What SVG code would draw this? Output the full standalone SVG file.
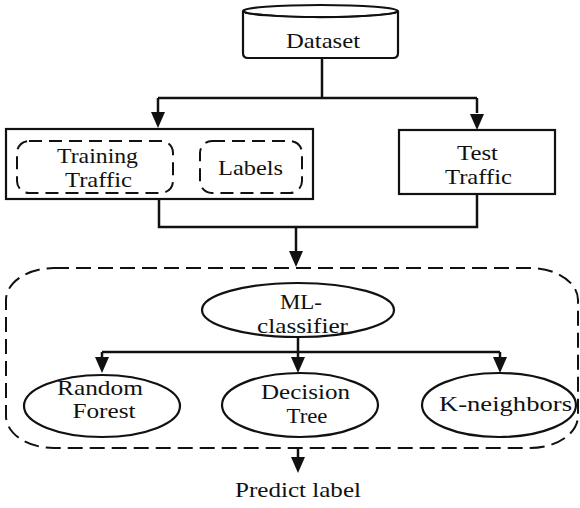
<svg xmlns="http://www.w3.org/2000/svg" width="580" height="508" viewBox="0 0 580 508" font-family="Liberation Serif, Times New Roman, DejaVu Serif, serif">
<defs>
<style>
.t{font-size:22px;fill:#111;text-anchor:middle}
.box{fill:#fff;stroke:#111;stroke-width:2.2}
.dash{fill:#fff;stroke:#111;stroke-width:2;stroke-dasharray:13 7}
.big{fill:none;stroke:#111;stroke-width:2;stroke-dasharray:15 7}
.c{fill:none;stroke:#111;stroke-width:2.5}
</style>
</defs>
<rect width="580" height="508" fill="#fff"/>
<g id="container">
<rect class="big" x="6" y="268" width="572" height="180" rx="48" ry="32"/>
</g>
<g id="connectors">
<path class="c" d="M322,58 V98 M158,98 H477"/>
<path class="c" d="M158,98 V112"/>
<path class="c" d="M477,98 V113"/>
<polygon points="151,112 165,112 158,128" fill="#111"/>
<polygon points="470,114 484,114 477,130" fill="#111"/>
<path class="c" d="M159,199 V227 H477 V194 M296,227 V252"/>
<polygon points="289,251 303,251 296,267" fill="#111"/>
<path class="c" d="M298,337 V352 M102,352 H500 M102,352 V358 M298,352 V358 M500,352 V358"/>
<polygon points="95,357 109,357 102,373" fill="#111"/>
<polygon points="291,357 305,357 298,373" fill="#111"/>
<polygon points="493,357 507,357 500,373" fill="#111"/>
<path class="c" d="M298,448 V458"/>
<polygon points="291,457 305,457 298,473" fill="#111"/>
</g>
<g id="dataset">
<path class="box" d="M243,11 V53 Q243,58 248,58 H393 Q398,58 398,53 V11"/>
<ellipse class="box" cx="320.5" cy="11" rx="77.5" ry="6"/>
<path d="M245,13 Q320,22 396,13" fill="none" stroke="#111" stroke-width="1.5"/>
<text class="t" x="323" y="48" textLength="74" lengthAdjust="spacingAndGlyphs">Dataset</text>
</g>
<g id="train-group">
<rect class="box" x="6" y="129" width="307" height="70"/>
</g>
<g id="training-traffic">
<rect class="dash" x="17" y="141" width="156" height="52" rx="12"/>
<text class="t" x="97.5" y="163" textLength="81" lengthAdjust="spacingAndGlyphs">Training</text>
<text class="t" x="98.5" y="187" textLength="67" lengthAdjust="spacingAndGlyphs">Traffic</text>
</g>
<g id="labels">
<rect class="dash" x="200" y="141" width="102" height="52" rx="12"/>
<text class="t" x="250.5" y="175" textLength="65" lengthAdjust="spacingAndGlyphs">Labels</text>
</g>
<g id="test-traffic">
<rect class="box" x="399" y="130" width="156" height="64"/>
<text class="t" x="477.5" y="160" textLength="41" lengthAdjust="spacingAndGlyphs">Test</text>
<text class="t" x="478.5" y="184" textLength="67" lengthAdjust="spacingAndGlyphs">Traffic</text>
</g>
<g id="ml-classifier">
<ellipse class="box" cx="298" cy="310" rx="96" ry="27"/>
<text class="t" x="301" y="309" textLength="42" lengthAdjust="spacingAndGlyphs">ML-</text>
<text class="t" x="302.5" y="333" textLength="91" lengthAdjust="spacingAndGlyphs">classifier</text>
</g>
<g id="random-forest">
<ellipse class="box" cx="102" cy="406" rx="78" ry="31"/>
<text class="t" x="100" y="395" textLength="86" lengthAdjust="spacingAndGlyphs">Random</text>
<text class="t" x="104" y="418" textLength="63" lengthAdjust="spacingAndGlyphs">Forest</text>
</g>
<g id="decision-tree">
<ellipse class="box" cx="300" cy="405" rx="78" ry="32"/>
<text class="t" x="305.5" y="399" textLength="89" lengthAdjust="spacingAndGlyphs">Decision</text>
<text class="t" x="307" y="423" textLength="41" lengthAdjust="spacingAndGlyphs">Tree</text>
</g>
<g id="k-neighbors">
<ellipse class="box" cx="499" cy="405" rx="77" ry="32"/>
<text class="t" x="505.5" y="411" textLength="133" lengthAdjust="spacingAndGlyphs">K-neighbors</text>
</g>
<g id="predict-label">
<text class="t" x="298" y="497" textLength="126" lengthAdjust="spacingAndGlyphs">Predict label</text>
</g>
</svg>
